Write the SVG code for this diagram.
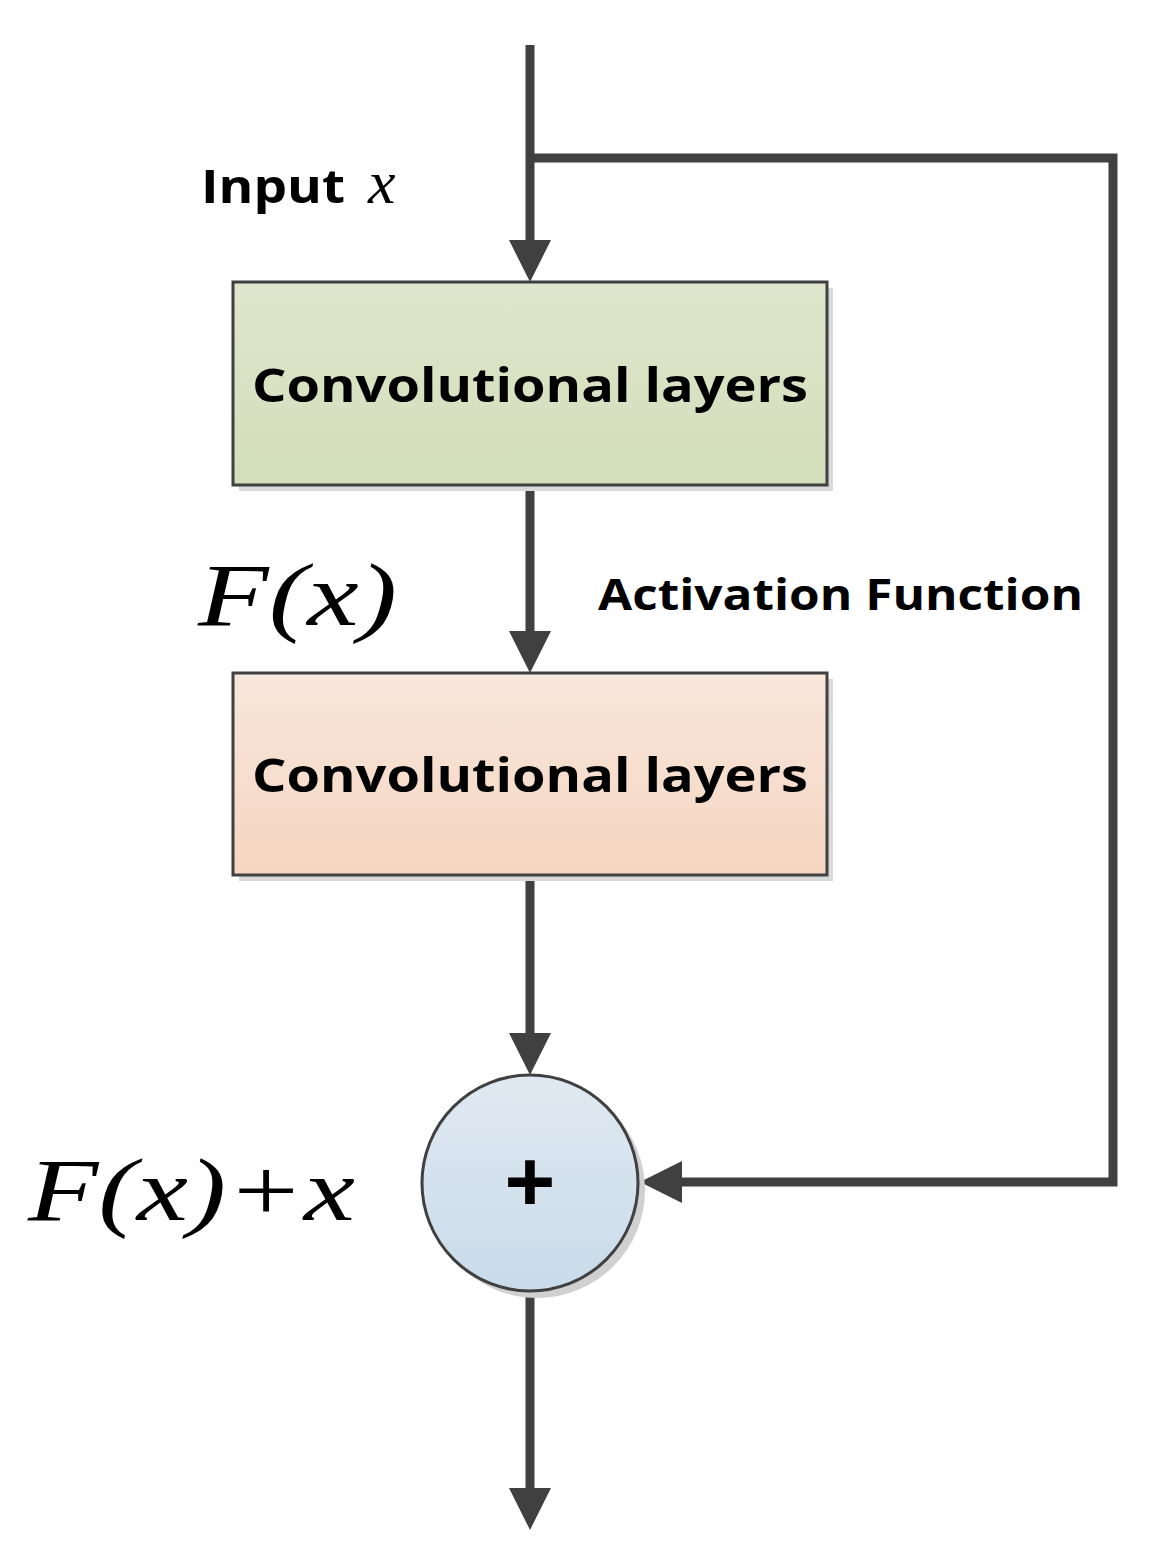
<svg xmlns="http://www.w3.org/2000/svg" width="1150" height="1556" viewBox="0 0 1150 1556">
<style>
.ln{stroke:#404040;stroke-width:9;fill:none}
.lbl{font-family:"Open Sans","Liberation Sans",sans-serif;font-weight:bold;fill:#000}
.math{font-family:"Liberation Serif",serif;font-style:italic;fill:#000}
.box{stroke:#404040;stroke-width:3}
</style>
<defs>
<linearGradient id="g1" x1="0" y1="0" x2="0" y2="1"><stop offset="0" stop-color="#e0e6cd"/><stop offset="1" stop-color="#d2ddb9"/></linearGradient>
<linearGradient id="g2" x1="0" y1="0" x2="0" y2="1"><stop offset="0" stop-color="#f8e7dc"/><stop offset="1" stop-color="#f5d5c0"/></linearGradient>
<linearGradient id="g3" x1="0" y1="0" x2="0" y2="1"><stop offset="0" stop-color="#e0e9f2"/><stop offset="1" stop-color="#c9dbe9"/></linearGradient>
<path id="arr" d="M-21,-42 L21,-42 L0,0 z" fill="#404040"/>
</defs>
<g id="connectors">
<line class="ln" x1="530" y1="45" x2="530" y2="250"/>
<use href="#arr" x="530" y="282"/>
<polyline class="ln" points="530,158 1113,158 1113,1182 675,1182"/>
<path d="M640,1182 L682,1161 L682,1203 z" fill="#404040"/>
<line class="ln" x1="530" y1="485" x2="530" y2="640"/>
<use href="#arr" x="530" y="673"/>
<line class="ln" x1="530" y1="875" x2="530" y2="1040"/>
<use href="#arr" x="530" y="1075"/>
<line class="ln" x1="530" y1="1291" x2="530" y2="1495"/>
<use href="#arr" x="530" y="1530"/>
</g>
<g id="box1">
<rect x="239" y="288" width="594" height="203" fill="#d9d9d9"/>
<rect class="box" x="233" y="282" width="594" height="203" fill="url(#g1)"/>
<text class="lbl" x="252" y="402" font-size="47" textLength="556" lengthAdjust="spacingAndGlyphs">Convolutional layers</text>
</g>
<g id="box2">
<rect x="239" y="679" width="594" height="202" fill="#d9d9d9"/>
<rect class="box" x="233" y="673" width="594" height="202" fill="url(#g2)"/>
<text class="lbl" x="252" y="792" font-size="47" textLength="556" lengthAdjust="spacingAndGlyphs">Convolutional layers</text>
</g>
<g id="sum">
<circle cx="537" cy="1190" r="108" fill="#d0d0d0"/>
<circle cx="530" cy="1183" r="108" fill="url(#g3)" stroke="#404040" stroke-width="3"/>
<text class="lbl" x="530" y="1214" font-size="90" text-anchor="middle">+</text>
</g>
<g id="labels">
<text class="lbl" x="201" y="203" font-size="47" textLength="144" lengthAdjust="spacingAndGlyphs">Input</text>
<text class="math" x="368" y="203" font-size="62">x</text>
<text class="math" x="198" y="625" font-size="88" textLength="199" lengthAdjust="spacingAndGlyphs">F(x)</text>
<text class="lbl" x="598" y="610" font-size="43" textLength="485" lengthAdjust="spacingAndGlyphs">Activation Function</text>
<text class="math" x="28" y="1220" font-size="88" textLength="327" lengthAdjust="spacingAndGlyphs">F(x)+x</text>
</g>
</svg>
